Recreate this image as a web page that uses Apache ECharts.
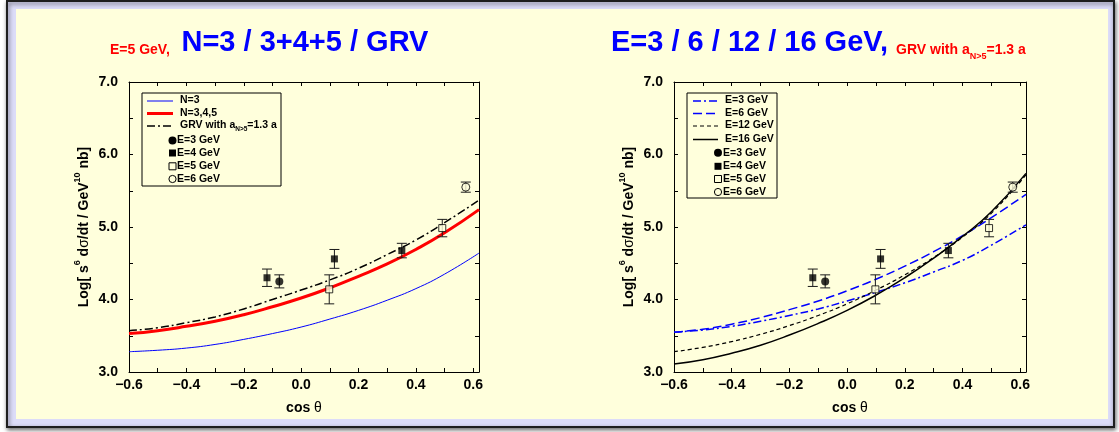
<!DOCTYPE html>
<html>
<head>
<meta charset="utf-8">
<script src="https://cdn.jsdelivr.net/npm/echarts@6/dist/echarts.min.js"></script>
<style>
  html, body { margin: 0; padding: 0; background: #ffffff; }
  #chart { width: 1119px; height: 432px; }
</style>
</head>
<body>
<div id="chart"></div>
<script>
// cos θ sampling of the model curves
const cosGrid = [-0.6, -0.5, -0.4, -0.3, -0.2, -0.1, 0.0, 0.1, 0.2, 0.3, 0.4, 0.5, 0.62];

// Left panel: E = 5 GeV, N=3 / N=3,4,5 / GRV
const n3Curve   = [3.28, 3.30, 3.33, 3.38, 3.45, 3.53, 3.62, 3.73, 3.85, 3.99, 4.15, 4.35, 4.64];
const n345Curve = [3.53, 3.57, 3.63, 3.70, 3.79, 3.90, 4.02, 4.16, 4.32, 4.49, 4.69, 4.92, 5.24];
const grvCurve  = [3.57, 3.61, 3.68, 3.76, 3.87, 4.00, 4.13, 4.27, 4.43, 4.62, 4.82, 5.06, 5.37];

// Right panel: GRV with a_{N>5} = 1.3 a at several energies
const grvE3  = [3.55, 3.58, 3.63, 3.70, 3.78, 3.87, 3.98, 4.10, 4.23, 4.38, 4.54, 4.75, 5.03];
const grvE6  = [3.55, 3.59, 3.66, 3.75, 3.86, 3.98, 4.12, 4.28, 4.46, 4.66, 4.88, 5.13, 5.45];
const grvE12 = [3.28, 3.34, 3.42, 3.52, 3.64, 3.78, 3.94, 4.13, 4.34, 4.58, 4.86, 5.19, 5.72];
const grvE16 = [3.11, 3.17, 3.26, 3.37, 3.51, 3.67, 3.85, 4.06, 4.30, 4.57, 4.87, 5.21, 5.74];

// Measurements: [cos θ, value, error]
const dataE3 = [[-0.076, 4.25, 0.09]];
const dataE4 = [[-0.119, 4.30, 0.12], [0.116, 4.56, 0.13], [0.351, 4.675, 0.10]];
const dataE5 = [[0.098, 4.14, 0.20], [0.492, 4.985, 0.12]];
const dataE6 = [[0.574, 5.55, 0.07]];

// Axis tick labels
const xTickLabels = { '-0.6': '\u22120.6', '-0.4': '\u22120.4', '-0.2': '\u22120.2', '0': '0.0', '0.2': '0.2', '0.4': '0.4', '0.6': '0.6' };
const yTickLabels = { '3': '3.0', '4': '4.0', '5': '5.0', '6': '6.0', '7': '7.0' };

const FONT = '"Liberation Sans", Arial, Helvetica, sans-serif';
const PANEL = '#ffffdc';
const BLUE = '#0000ff';
const RED = '#ff0000';

const chart = echarts.init(document.getElementById('chart'), null, { renderer: 'canvas' });

const grids = [
  { left: 129, top: 82, width: 350, height: 290 },
  { left: 674, top: 82, width: 352, height: 290 }
];

function keyOf(v) { return String(Math.round(v * 10) / 10); }

function xAxes(g) {
  const base = {
    gridIndex: g, type: 'value', min: -0.6, max: 0.62, interval: 0.1,
    axisLine: { show: true, onZero: false, lineStyle: { color: '#000', width: 1 } },
    axisTick: { show: true, inside: true, length: 4, lineStyle: { color: '#000', width: 1 } },
    splitLine: { show: false }
  };
  return [
    Object.assign({}, base, {
      position: 'bottom',
      axisLabel: {
        color: '#000', fontFamily: FONT, fontWeight: 'bold', fontSize: 14, margin: 6,
        formatter: v => xTickLabels[keyOf(v)] !== undefined && Math.abs(v * 5 - Math.round(v * 5)) < 1e-6 ? xTickLabels[keyOf(v)] : ''
      },
      name: 'cos {g|θ}', nameLocation: 'middle', nameGap: 29,
      nameTextStyle: {
        color: '#000', fontFamily: FONT, fontWeight: 'bold', fontSize: 14,
        rich: { g: { color: '#000', fontFamily: FONT, fontSize: 14, fontWeight: 'normal' } }
      }
    }),
    Object.assign({}, base, { position: 'top', axisLabel: { show: false } })
  ];
}

function yAxes(g) {
  const base = {
    gridIndex: g, type: 'value', min: 3, max: 7, interval: 0.5,
    axisLine: { show: true, onZero: false, lineStyle: { color: '#000', width: 1 } },
    axisTick: { show: true, inside: true, length: 4, lineStyle: { color: '#000', width: 1 } },
    splitLine: { show: false }
  };
  return [
    Object.assign({}, base, {
      position: 'left',
      axisLabel: {
        color: '#000', fontFamily: FONT, fontWeight: 'bold', fontSize: 14, margin: 11,
        formatter: v => yTickLabels[String(v)] || ''
      },
      name: '{n|Log[ s}{p|6}{n| d}{g|σ}{n|/dt / GeV}{p|10}{n| nb]}',
      nameLocation: 'middle', nameGap: 38, nameRotate: 90,
      nameTextStyle: {
        rich: {
          n: { color: '#000', fontFamily: FONT, fontWeight: 'bold', fontSize: 14, lineHeight: 18, verticalAlign: 'bottom' },
          g: { color: '#000', fontFamily: FONT, fontWeight: 'normal', fontSize: 14, lineHeight: 18, verticalAlign: 'bottom' },
          p: { color: '#000', fontFamily: FONT, fontWeight: 'bold', fontSize: 9, lineHeight: 10, verticalAlign: 'top' }
        }
      }
    }),
    Object.assign({}, base, { position: 'right', axisLabel: { show: false } })
  ];
}

function curve(g, name, values, color, width, dash) {
  return {
    type: 'line', name: name, xAxisIndex: 2 * g, yAxisIndex: 2 * g,
    data: cosGrid.map((c, i) => [c, values[i]]),
    smooth: true, showSymbol: false, symbol: 'none', silent: true, z: 2,
    lineStyle: { color: color, width: width, type: dash || 'solid' }
  };
}

function errorBars(g, data) {
  return {
    type: 'custom', xAxisIndex: 2 * g, yAxisIndex: 2 * g, data: data, silent: true, z: 3,
    encode: { x: 0, y: 1 },
    renderItem: function (params, api) {
      const x = api.value(0), y = api.value(1), e = api.value(2);
      const hi = api.coord([x, y + e]);
      const lo = api.coord([x, y - e]);
      const w = 5;
      const st = { stroke: '#1a1a1a', lineWidth: 1 };
      return {
        type: 'group', children: [
          { type: 'line', shape: { x1: hi[0], y1: hi[1], x2: lo[0], y2: lo[1] }, style: st },
          { type: 'line', shape: { x1: hi[0] - w, y1: hi[1], x2: hi[0] + w, y2: hi[1] }, style: st },
          { type: 'line', shape: { x1: lo[0] - w, y1: lo[1], x2: lo[0] + w, y2: lo[1] }, style: st }
        ]
      };
    }
  };
}

function points(g, data, symbol, size, filled) {
  return {
    type: 'scatter', xAxisIndex: 2 * g, yAxisIndex: 2 * g, silent: true, z: 4,
    data: data.map(d => [d[0], d[1]]),
    symbol: symbol, symbolSize: size,
    itemStyle: filled
      ? { color: '#000', borderWidth: 0 }
      : { color: PANEL, borderColor: '#000', borderWidth: 1 }
  };
}

function measurementSeries(g) {
  return [
    errorBars(g, dataE3.concat(dataE4, dataE5, dataE6)),
    points(g, dataE3, 'circle', 8, true),
    points(g, dataE4, 'rect', 7, true),
    points(g, dataE5, 'rect', 7, false),
    points(g, dataE6, 'circle', 8, false)
  ];
}

const series = [
  curve(0, 'N=3', n3Curve, BLUE, 1),
  curve(0, 'N=3,4,5', n345Curve, RED, 3),
  curve(0, 'GRV', grvCurve, '#000', 1.5, [8, 3, 2, 3]),
  curve(1, 'E=3 GeV', grvE3, BLUE, 1.5, [8, 3, 2, 3]),
  curve(1, 'E=6 GeV', grvE6, BLUE, 1.5, [9, 4]),
  curve(1, 'E=12 GeV', grvE12, '#000', 1.2, [4, 3]),
  curve(1, 'E=16 GeV', grvE16, '#000', 1.5)
].concat(measurementSeries(0), measurementSeries(1));

// ---- legend boxes drawn as graphics ----
const legendRich = {
  t: { fontFamily: FONT, fontWeight: 'bold', fontSize: 10.5, fill: '#000', lineHeight: 12, verticalAlign: 'top' },
  s: { fontFamily: FONT, fontWeight: 'bold', fontSize: 6.5, fill: '#000', lineHeight: 8, verticalAlign: 'top', padding: [6, 0, 0, 0] }
};

function legendBox(box, lineRows, markerRows) {
  const items = [{
    type: 'rect', shape: { x: box.x, y: box.y, width: box.w, height: box.h },
    style: { fill: PANEL, stroke: '#000', lineWidth: 1 }, z: 50
  }];
  lineRows.forEach(r => {
    items.push({
      type: 'line', shape: { x1: box.lx1, y1: r.y, x2: box.lx2, y2: r.y },
      style: { stroke: r.color, lineWidth: r.width, lineDash: r.dash || null }, z: 51
    });
    items.push({
      type: 'text', x: box.tx, y: r.y, z: 51,
      style: { text: r.text, rich: legendRich, verticalAlign: 'middle', align: 'left', fontFamily: FONT, fontWeight: 'bold', fontSize: 10.5, fill: '#000' }
    });
  });
  markerRows.forEach(r => {
    const cx = box.mx, cy = r.y;
    const st = r.filled ? { fill: '#000', stroke: null } : { fill: PANEL, stroke: '#000', lineWidth: 1 };
    if (r.shape === 'circle') {
      items.push({ type: 'circle', shape: { cx: cx, cy: cy, r: r.filled ? 4 : 3.6 }, style: st, z: 51 });
    } else {
      items.push({ type: 'rect', shape: { x: cx - 3.5, y: cy - 3.5, width: 7, height: 7 }, style: st, z: 51 });
    }
    items.push({
      type: 'text', x: box.mtx, y: cy, z: 51,
      style: { text: r.text, verticalAlign: 'middle', align: 'left', fontFamily: FONT, fontWeight: 'bold', fontSize: 10.5, fill: '#000' }
    });
  });
  return items;
}

const markerLegend = [
  { text: 'E=3 GeV', shape: 'circle', filled: true },
  { text: 'E=4 GeV', shape: 'rect', filled: true },
  { text: 'E=5 GeV', shape: 'rect', filled: false },
  { text: 'E=6 GeV', shape: 'circle', filled: false }
];

const leftLegend = legendBox(
  { x: 142, y: 93, w: 139, h: 93, lx1: 147, lx2: 173, tx: 180, mx: 172.5, mtx: 177 },
  [
    { y: 101, text: '{t|N=3}', color: BLUE, width: 1 },
    { y: 113.5, text: '{t|N=3,4,5}', color: RED, width: 3 },
    { y: 126, text: '{t|GRV with a}{s|N>5}{t|=1.3 a}', color: '#000', width: 1.5, dash: [8, 3, 2, 3] }
  ],
  markerLegend.map((m, i) => Object.assign({ y: [140.5, 153, 166.3, 179][i] }, m))
);

const rightLegend = legendBox(
  { x: 687, y: 93, w: 90, h: 105, lx1: 693, lx2: 718, tx: 725, mx: 718, mtx: 723 },
  [
    { y: 101, text: '{t|E=3 GeV}', color: BLUE, width: 1.5, dash: [8, 3, 2, 3] },
    { y: 113.5, text: '{t|E=6 GeV}', color: BLUE, width: 1.5, dash: [9, 4] },
    { y: 126, text: '{t|E=12 GeV}', color: '#000', width: 1.2, dash: [4, 3] },
    { y: 139.5, text: '{t|E=16 GeV}', color: '#000', width: 1.5 }
  ],
  markerLegend.map((m, i) => Object.assign({ y: [152.7, 166.3, 179, 192][i] }, m))
);

// ---- panel frame and headings ----
const frame = [
  {
    type: 'rect', shape: { x: 7, y: 1, width: 1107, height: 426 }, z: -20, silent: true,
    style: { fill: '#dcdcf8', stroke: '#1e1e1e', lineWidth: 2, shadowBlur: 4, shadowOffsetX: 1, shadowOffsetY: 2, shadowColor: 'rgba(0,0,0,0.55)' }
  },
  {
    type: 'rect', shape: { x: 16, y: 9, width: 1092, height: 410 }, z: -19, silent: true,
    style: { fill: PANEL }
  }
];

const titleRich = {
  b: { fontFamily: FONT, fontWeight: 'bold', fontSize: 29, fill: BLUE, lineHeight: 34, verticalAlign: 'top' },
  r: { fontFamily: FONT, fontWeight: 'bold', fontSize: 14, fill: RED, lineHeight: 16, verticalAlign: 'top', padding: [15, 0, 0, 0] },
  s: { fontFamily: FONT, fontWeight: 'bold', fontSize: 9, fill: RED, lineHeight: 10, verticalAlign: 'top', padding: [24, 0, 0, 0] }
};

const titles = [
  {
    type: 'text', x: 110, y: 28, z: 10,
    style: { text: '{r|E=5 GeV,   }{b|N=3 / 3+4+5 / GRV}', rich: titleRich, align: 'left', verticalAlign: 'top', fontFamily: FONT }
  },
  {
    type: 'text', x: 611, y: 28, z: 10,
    style: { text: '{b|E=3 / 6 / 12 / 16 GeV, }{r|GRV with a}{s|N>5}{r|=1.3 a}', rich: titleRich, align: 'left', verticalAlign: 'top', fontFamily: FONT }
  }
];

chart.setOption({
  animation: false,
  backgroundColor: '#ffffff',
  textStyle: { fontFamily: FONT },
  grid: grids,
  xAxis: xAxes(0).concat(xAxes(1)),
  yAxis: yAxes(0).concat(yAxes(1)),
  series: series,
  graphic: frame.concat(titles, leftLegend, rightLegend)
});
</script>
</body>
</html>
